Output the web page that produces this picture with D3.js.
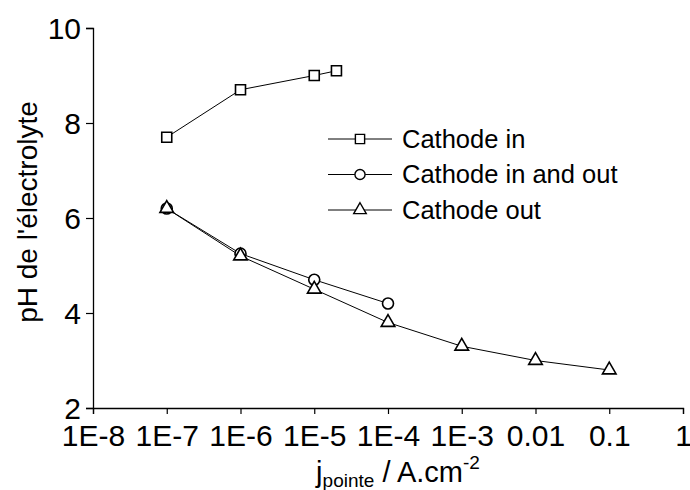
<!DOCTYPE html>
<html>
<head>
<meta charset="utf-8">
<script src="https://cdn.jsdelivr.net/npm/d3@7"></script>
<style>
html,body{margin:0;padding:0;background:#fff;}
svg{display:block;font-family:"Liberation Sans",Arial,sans-serif;}
</style>
</head>
<body>
<svg id="chart" width="690" height="490"></svg>
<script>
// ---- data ----
const xTicks = [1e-8, 1e-7, 1e-6, 1e-5, 1e-4, 1e-3, 0.01, 0.1, 1];
const xTickLabels = ["1E-8", "1E-7", "1E-6", "1E-5", "1E-4", "1E-3", "0.01", "0.1", "1"];
const yTicks = [2, 4, 6, 8, 10];
const yMinorTicks = [3, 5, 7, 9];

const seriesNames = ["Cathode in", "Cathode in and out", "Cathode out"];
const cathodeInX = [1e-7, 1e-6, 1e-5, 2e-5];
const cathodeInY = [7.7, 8.7, 9.0, 9.1];
const inOutX = [1e-7, 1e-6, 1e-5, 1e-4];
const inOutY = [6.2, 5.25, 4.7, 4.2];
const outX = [1e-7, 1e-6, 1e-5, 1e-4, 1e-3, 0.01, 0.1];
const outY = [6.2, 5.2, 4.5, 3.8, 3.3, 3.0, 2.8];

// ---- layout ----
const svg = d3.select("#chart");
const pLeft = 93, pRight = 683, pTop = 28, pBottom = 408;
const x = d3.scaleLog().domain([1e-8, 1]).range([pLeft, pRight]);
const y = d3.scaleLinear().domain([2, 10]).range([pBottom, pTop]);

// minor x ticks
const xMinor = [];
for (let e = -8; e < 0; e++) for (let m = 2; m <= 9; m++) xMinor.push(m * Math.pow(10, e));

const gx = svg.append("g").attr("transform", `translate(0,${pBottom})`);
gx.call(d3.axisBottom(x).tickValues(xMinor).tickSize(3).tickFormat(""));
gx.call(d3.axisBottom(x).tickValues(xTicks).tickSizeOuter(0).tickSize(6)
  .tickFormat((d, i) => xTickLabels[i]));
gx.selectAll("text").attr("y", 10).attr("dy", "0.92em").attr("font-size", 30).attr("fill", "#000")
  .attr("font-family", '"Liberation Sans",Arial,sans-serif');

const gy = svg.append("g").attr("transform", `translate(${pLeft},0)`);
gy.call(d3.axisLeft(y).tickValues(yMinorTicks).tickSize(4).tickFormat(""));
gy.call(d3.axisLeft(y).tickValues(yTicks).tickSizeOuter(0).tickSize(7).tickFormat(d3.format("d")));
gy.selectAll("text").attr("x", -12).attr("dy", "0.36em").attr("font-size", 30).attr("fill", "#000")
  .attr("font-family", '"Liberation Sans",Arial,sans-serif');
svg.selectAll(".domain").attr("stroke", "#000").attr("stroke-width", 1.3);
svg.selectAll(".tick line").attr("stroke", "#000").attr("stroke-width", 1.2);

// ---- series ----
const data = [
  {name: seriesNames[0], xs: cathodeInX, ys: cathodeInY, sym: d3.symbolSquare, size: 100},
  {name: seriesNames[1], xs: inOutX, ys: inOutY, sym: d3.symbolCircle, size: 95},
  {name: seriesNames[2], xs: outX, ys: outY, sym: d3.symbolTriangle, size: 80}
];
const line = d3.line().x(d => x(d[0])).y(d => y(d[1]));
data.forEach(s => {
  const pts = s.xs.map((v, i) => [v, s.ys[i]]);
  svg.append("path").datum(pts).attr("d", line).attr("fill", "none")
    .attr("stroke", "#000").attr("stroke-width", 1);
});
data.forEach(s => {
  const pts = s.xs.map((v, i) => [v, s.ys[i]]);
  svg.append("g").selectAll("path").data(pts).join("path")
    .attr("transform", d => `translate(${x(d[0])},${y(d[1])})`)
    .attr("d", d3.symbol().type(s.sym).size(s.size))
    .attr("fill", "#fff").attr("stroke", "#000").attr("stroke-width", 1.6);
});

// ---- legend ----
const legY = [139, 174.5, 210];
data.forEach((s, i) => {
  const g = svg.append("g").attr("transform", `translate(0,${legY[i]})`);
  g.append("line").attr("x1", 328).attr("x2", 392).attr("y1", 0).attr("y2", 0)
    .attr("stroke", "#000").attr("stroke-width", 1);
  g.append("path").attr("transform", "translate(360,0)")
    .attr("d", d3.symbol().type(s.sym).size(s.size * 0.85))
    .attr("fill", "#fff").attr("stroke", "#000").attr("stroke-width", 1.4);
  g.append("text").attr("x", 402).attr("y", 0).attr("dy", "0.35em")
    .attr("font-size", 25.5).text(s.name);
});

// ---- axis titles ----
svg.append("text").attr("transform", `translate(37,212) rotate(-90)`)
  .attr("text-anchor", "middle").attr("font-size", 28).text("pH de l'électrolyte");

const xt = svg.append("text").attr("x", 398).attr("y", 482).attr("text-anchor", "middle").attr("font-size", 29);
xt.append("tspan").text("j");
xt.append("tspan").attr("font-size", 19).attr("dy", 5).text("pointe");
xt.append("tspan").attr("dy", -5).text(" / A.cm");
xt.append("tspan").attr("font-size", 19).attr("dy", -13).text("-2");
</script>
</body>
</html>
